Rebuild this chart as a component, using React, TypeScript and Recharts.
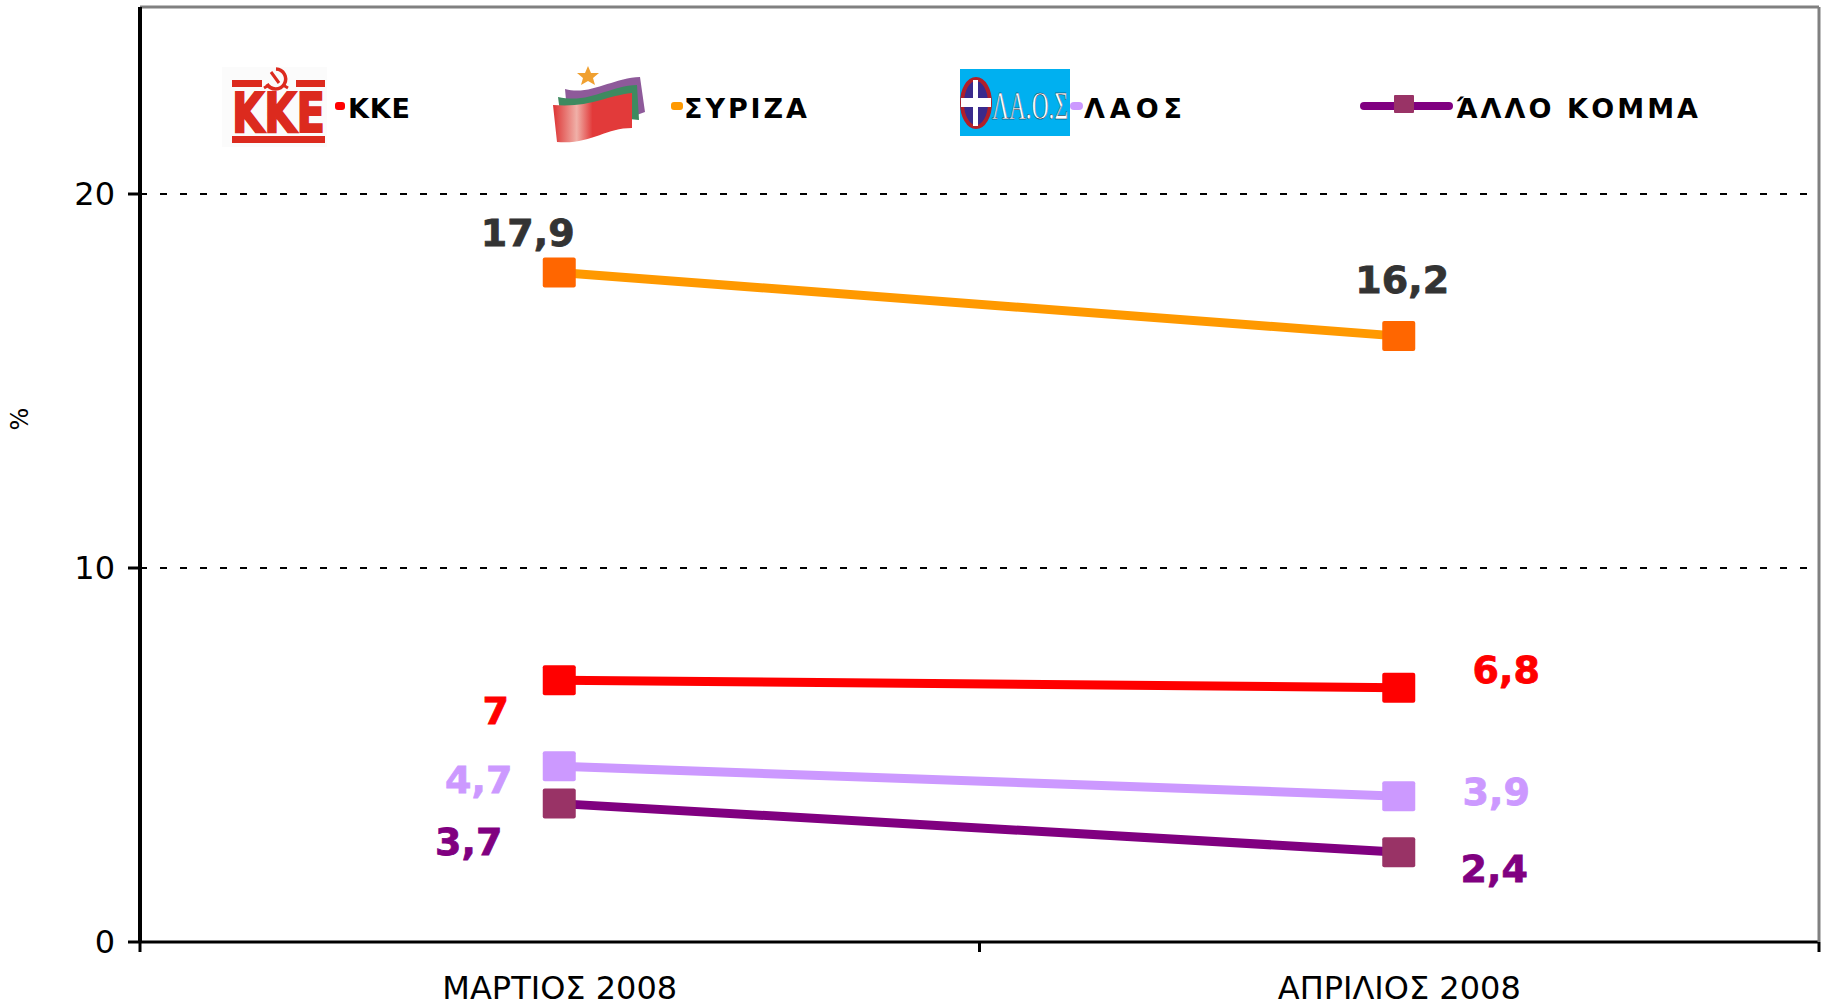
import React from "react";
import { LineChart, Line, XAxis, YAxis, CartesianGrid, LabelList } from "recharts";

const FONT = "'DejaVu Sans', Verdana, sans-serif";

const categories = ["ΜΑΡΤΙΟΣ 2008", "ΑΠΡΙΛΙΟΣ 2008"];
const kke = [7, 6.8];
const syriza = [17.9, 16.2];
const laos = [4.7, 3.9];
const other = [3.7, 2.4];
const yTicks = [0, 10, 20];

const data = categories.map((name, i) => ({
  name,
  kke: kke[i],
  syriza: syriza[i],
  laos: laos[i],
  other: other[i],
}));

const WIDTH = 1826;
const HEIGHT = 1003;
const X_AXIS_HEIGHT = 61;
const MARGIN = { top: 6, right: 6, bottom: 0, left: 0 };
const Y_AXIS_WIDTH = 140;
const PLOT_BOTTOM = HEIGHT - X_AXIS_HEIGHT;
const HALF_BAND = (WIDTH - 7 - Y_AXIS_WIDTH) / 4;

// label nudges per point, the labels sit by hand around the markers
const series = [
  { key: "kke", name: "ΚΚΕ", line: "#FF0000", marker: "#FF0000", nudge: [[-64, 44], [107, -5]] },
  { key: "syriza", name: "ΣΥΡΙΖΑ", line: "#FF9900", marker: "#FF6600", nudge: [[-32, -27], [3, -43]] },
  { key: "laos", name: "Λ Α Ο Σ", line: "#CC99FF", marker: "#CC99FF", nudge: [[-81, 27], [97, 9]] },
  { key: "other", name: "ΆΛΛΟ ΚΟΜΜΑ", line: "#800080", marker: "#993366", nudge: [[-91, 51], [95, 30]] },
];

const Marker = (props: any) => {
  const { cx, cy, fill, index } = props;
  return <rect key={index} x={cx - 17} y={cy - 15} width={33} height={30} rx={2} fill={fill} />;
};

const XTick = (props: any) => {
  const { x, payload, index } = props;
  return (
    <g>
      <line x1={x - HALF_BAND} x2={x - HALF_BAND} y1={PLOT_BOTTOM} y2={PLOT_BOTTOM + 10} stroke="#000" strokeWidth={3} />
      {index === categories.length - 1 && (
        <line x1={x + HALF_BAND} x2={x + HALF_BAND} y1={PLOT_BOTTOM} y2={PLOT_BOTTOM + 10} stroke="#000" strokeWidth={3} />
      )}
      <text x={x} y={999} textAnchor="middle" fontFamily={FONT} fontSize={32} fill="#000">
        {payload.value}
      </text>
    </g>
  );
};

const LegendLabel = ({ x, width, children }: any) => (
  <text
    x={x}
    y={118}
    textLength={width}
    lengthAdjust="spacing"
    fontFamily={FONT}
    fontWeight="bold"
    fontSize={27}
    fill="#000"
  >
    {children}
  </text>
);

const KkeLogo = () => (
  <g>
    <rect x={222} y={67} width={105} height={80} fill="#FBFBFB" />
    <rect x={232} y={80} width={93} height={7} fill="#DC2A1E" />
    <rect x={232} y={136} width={93} height={7} fill="#DC2A1E" />
    <rect x={262} y={74} width={34} height={14} fill="#FBFBFB" />
    <path d="M276 69 a10 10 0 1 1 -9 15" stroke="#DC2A1E" strokeWidth={3.5} fill="none" />
    <path d="M271 72 l8 11 M264 88 l5 -3 M288 88 l-5 -3" stroke="#DC2A1E" strokeWidth={3} fill="none" />
    <text
      transform="translate(232 132) scale(0.757 1)"
      fontFamily={FONT}
      fontWeight="bold"
      fontSize={55}
      stroke="#DC2A1E"
      strokeWidth={2}
      fill="#DC2A1E"
    >
      ΚΚΕ
    </text>
  </g>
);

const SyrizaLogo = () => (
  <g>
    <defs>
      <linearGradient id="flagRed" x1="0" x2="1" y1="0" y2="0">
        <stop offset="0" stopColor="#DD3333" />
        <stop offset="0.3" stopColor="#F0B0A8" />
        <stop offset="0.5" stopColor="#E23A3A" />
        <stop offset="1" stopColor="#E23A3A" />
      </linearGradient>
    </defs>
    <polygon
      points="588,66 591,73 599,73 593,78 595,85 588,81 581,85 583,78 577,73 585,73"
      fill="#F0A030"
    />
    <path d="M565 89 C590 96 612 78 640 77 L645 112 L634 116 L566 100 Z" fill="#8E5A9A" />
    <path d="M558 97 C590 104 608 86 637 85 L639 120 L560 112 Z" fill="#3E8A60" />
    <path d="M553 105 C590 108 605 96 632 93 L632 128 C605 128 590 145 557 142 Z" fill="url(#flagRed)" />
  </g>
);

const LaosLogo = () => (
  <g>
    <rect x={960} y={69} width={110} height={67} fill="#00B0F0" />
    <ellipse cx={976} cy={103} rx={14} ry={24} fill="#3A2A8C" stroke="#B0202A" strokeWidth={4} />
    <rect x={961} y={98} width={30} height={9} fill="#FFFFFF" />
    <rect x={973} y={80} width={5} height={46} fill="#FFFFFF" />
    <text
      transform="translate(992 119) scale(0.585 1)"
      fontFamily="'Liberation Serif', serif"
      fontSize={40}
      fill="#FFFFFF"
      stroke="#123"
      strokeWidth={0.5}
    >
      ΛΑ.Ο.Σ
    </text>
  </g>
);

const LegendRow = () => (
  <g>
    <KkeLogo />
    <rect x={335} y={102} width={10} height={8} rx={3} fill={series[0].line} />
    <LegendLabel x={348} width={62}>{series[0].name}</LegendLabel>

    <SyrizaLogo />
    <rect x={671} y={102} width={12} height={8} rx={3} fill={series[1].line} />
    <LegendLabel x={684} width={123}>{series[1].name}</LegendLabel>

    <LaosLogo />
    <rect x={1070} y={102} width={13} height={8} rx={4} fill={series[2].line} />
    <LegendLabel x={1084} width={98}>{series[2].name}</LegendLabel>

    <line x1={1364} x2={1449} y1={106} y2={106} stroke={series[3].line} strokeWidth={8} strokeLinecap="round" />
    <rect x={1394} y={95} width={20} height={18} rx={1} fill={series[3].marker} />
    <LegendLabel x={1456} width={242}>{series[3].name}</LegendLabel>
  </g>
);

const valueLabel = (color: string, nudge: number[][]) => (props: any) => {
  const { x, y, value, index } = props;
  return (
    <text
      x={x + nudge[index][0]}
      y={y + nudge[index][1]}
      textAnchor="middle"
      fontFamily={FONT}
      fontWeight="bold"
      fontSize={38}
      stroke={color}
      strokeWidth={0.8}
      fill={color}
    >
      {String(value).replace(".", ",")}
    </text>
  );
};

export default function App() {
  return (
    <div style={{ position: "absolute", left: 0, top: 0, width: WIDTH, height: HEIGHT, background: "#fff" }}>
      <LineChart width={WIDTH} height={HEIGHT} data={data} margin={MARGIN}>
        <CartesianGrid vertical={false} stroke="#000" strokeWidth={2} strokeDasharray="7 13" horizontalValues={[10, 20]} />
        <XAxis
          dataKey="name"
          scale="band"
          height={X_AXIS_HEIGHT}
          stroke="#000"
          strokeWidth={3}
          tickLine={false}
          tick={<XTick />}
          interval={0}
        />
        <XAxis xAxisId="top" dataKey="name" orientation="top" height={1} tick={false} tickLine={false} stroke="#808080" strokeWidth={3} />
        <YAxis
          domain={[0, 25]}
          ticks={yTicks}
          width={Y_AXIS_WIDTH}
          stroke="#000"
          strokeWidth={4}
          tickSize={12}
          tickMargin={13}
          interval={0}
          tick={{ fontFamily: FONT, fontSize: 32, fill: "#000" }}
          tickLine={{ stroke: "#000", strokeWidth: 3 }}
        />
        <YAxis yAxisId="right" orientation="right" width={1} domain={[0, 25]} tick={false} tickLine={false} stroke="#808080" strokeWidth={3} />
        {series.map((s) => (
          <Line
            key={s.key}
            dataKey={s.key}
            name={s.name}
            stroke={s.line}
            strokeWidth={9}
            isAnimationActive={false}
            dot={(p: any) => <Marker {...p} fill={s.marker} />}
            activeDot={false}
          >
            <LabelList dataKey={s.key} content={valueLabel(s.key === "syriza" ? "#333333" : s.line, s.nudge)} />
          </Line>
        ))}
        <text
          x={0}
          y={0}
          transform="translate(28 419) rotate(-90)"
          textAnchor="middle"
          fontFamily={FONT}
          fontSize={24}
          fill="#000"
        >
          %
        </text>
        <LegendRow />
      </LineChart>
    </div>
  );
}
